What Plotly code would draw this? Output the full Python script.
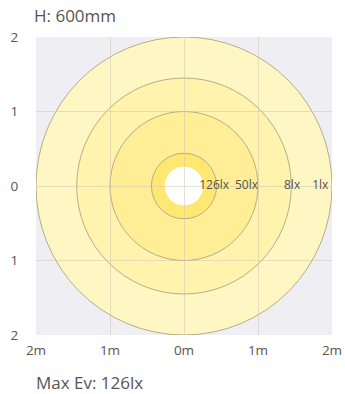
import plotly.graph_objects as go

# Isolux contours (radius in metres) and their fill colours, outermost first
radii = [2.0, 1.45, 1.0, 0.44]
ring_colors = ["#FFF7C3", "#FFF3AD", "#FFEE95", "#FFE872"]
hole_radius = 0.26

# Lux labels along the 0 line (right edge of each label)
lux_labels = ["126lx", "50lx", "8lx", "1lx"]
lux_x = [0.61, 1.00, 1.57, 1.95]

tick_vals = [-2, -1, 0, 1, 2]
x_tick_text = ["2m", "1m", "0m", "1m", "2m"]
y_tick_text = ["2", "1", "0", "1", "2"]

FONT = "Open Sans, sans-serif"
TEXT = "#555555"

fig = go.Figure()

shapes = []
for r, c in zip(radii, ring_colors):
    shapes.append(dict(
        type="circle", xref="x", yref="y", layer="below",
        x0=-r, x1=r, y0=-r, y1=r,
        fillcolor=c, line=dict(color="#B7AD88", width=1),
    ))
shapes.append(dict(
    type="circle", xref="x", yref="y", layer="below",
    x0=-hole_radius, x1=hole_radius, y0=-hole_radius, y1=hole_radius,
    fillcolor="#FFFFFF", line=dict(color="#FFFFFF", width=0),
))

fig.add_trace(go.Scatter(
    x=lux_x, y=[0] * len(lux_x),
    mode="text", text=lux_labels,
    textposition="middle left",
    textfont=dict(color=TEXT, size=12, family=FONT),
    hoverinfo="skip", showlegend=False,
))

fig.update_layout(
    width=345, height=394,
    margin=dict(l=36, r=13, t=37, b=59),
    paper_bgcolor="white",
    plot_bgcolor="#EEEEF3",
    shapes=shapes,
    showlegend=False,
    font=dict(family=FONT, color=TEXT, size=13),
    xaxis=dict(
        range=[-2, 2], tickvals=tick_vals, ticktext=x_tick_text,
        showgrid=True, gridcolor="rgba(205,198,180,0.5)", gridwidth=1,
        zeroline=False, showline=False, automargin=False,
        ticks="outside", ticklen=3, tickcolor="rgba(0,0,0,0)",
        tickfont=dict(size=13.5, color=TEXT, family=FONT),
        fixedrange=True,
    ),
    yaxis=dict(
        range=[-2, 2], tickvals=tick_vals, ticktext=y_tick_text,
        showgrid=True, gridcolor="rgba(205,198,180,0.5)", gridwidth=1,
        zeroline=False, showline=False, automargin=False,
        ticks="outside", ticklen=14, tickcolor="rgba(0,0,0,0)",
        tickfont=dict(size=13.5, color=TEXT, family=FONT),
        fixedrange=True,
    ),
    annotations=[
        dict(text="H: 600mm", xref="paper", yref="paper", x=0.0, y=1.0,
             xanchor="left", yanchor="bottom", xshift=-4, yshift=8,
             showarrow=False, font=dict(size=17, color=TEXT, family=FONT)),
        dict(text="Max Ev: 126lx", xref="paper", yref="paper", x=0.0, y=0.0,
             xanchor="left", yanchor="top", xshift=-2, yshift=-34,
             showarrow=False, font=dict(size=17, color=TEXT, family=FONT)),
    ],
)

fig.write_html("out.html", config={"displayModeBar": False})

# drop the default page margin so the figure sits at the window's corner
with open("out.html", encoding="utf-8") as f:
    html = f.read()
html = html.replace("<body>", '<body style="margin:0">', 1)
with open("out.html", "w", encoding="utf-8") as f:
    f.write(html)
